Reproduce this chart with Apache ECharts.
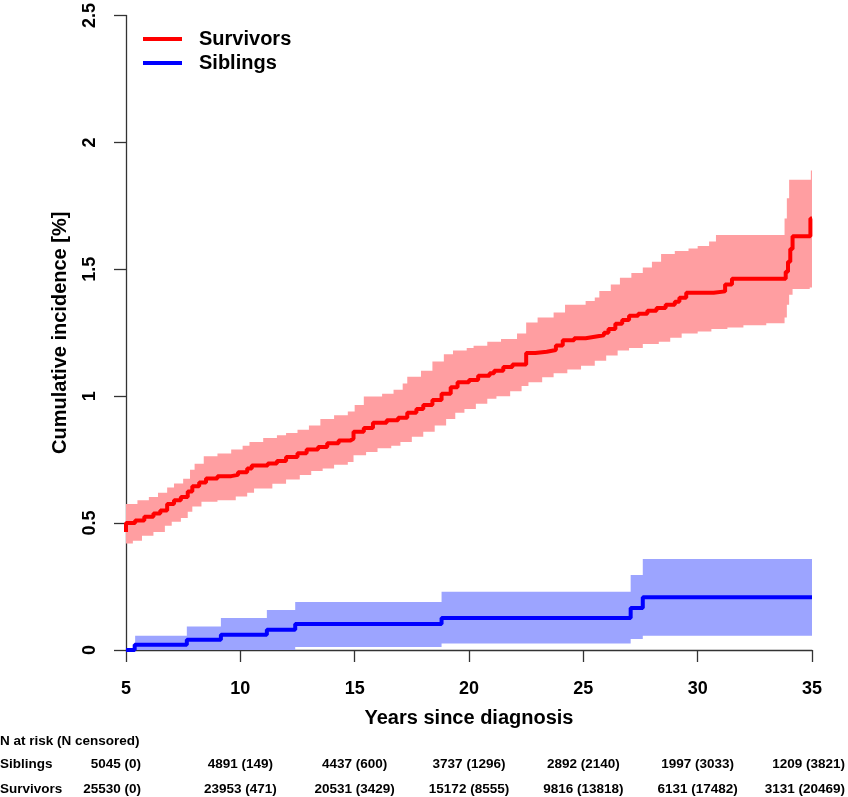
<!DOCTYPE html>
<html><head><meta charset="utf-8">
<script src="https://cdn.jsdelivr.net/npm/echarts@6/dist/echarts.min.js"></script>
<style>html,body{margin:0;padding:0;background:#fff}#c{width:848px;height:797px}</style>
</head><body><div id="c"></div>
<script>
// ---------- data ----------
const xTicks = [5, 10, 15, 20, 25, 30, 35];
const seriesNames = ['Survivors', 'Siblings'];

// step points [years, cumulative incidence %]
const survivorsEst = [
 [5.0,0.465],[5.0,0.50],[5.4,0.51],[5.8,0.525],[6.2,0.538],[6.5,0.55],[6.8,0.575],[7.1,0.59],[7.4,0.603],
 [7.7,0.625],[7.9,0.645],[8.2,0.66],[8.5,0.676],[9.0,0.685],[9.6,0.69],[9.9,0.70],[10.3,0.715],
 [10.5,0.727],[11.2,0.735],[11.6,0.745],[12.0,0.76],[12.5,0.775],[12.9,0.79],[13.4,0.80],[13.8,0.815],
 [14.3,0.825],[14.8,0.832],[14.95,0.86],[15.4,0.875],[15.8,0.895],[16.4,0.905],[16.9,0.915],[17.3,0.935],
 [17.7,0.95],[18.0,0.965],[18.4,0.985],[18.8,1.01],[19.2,1.035],[19.5,1.055],[20.0,1.064],[20.4,1.081],
 [20.9,1.09],[21.1,1.10],[21.5,1.115],[21.9,1.125],[22.5,1.17],[22.9,1.175],[23.4,1.182],[23.8,1.20],
 [24.1,1.22],[24.6,1.228],[25.1,1.234],[25.5,1.24],[25.9,1.25],[26.1,1.265],[26.4,1.285],[26.7,1.30],
 [27.0,1.317],[27.4,1.325],[27.8,1.337],[28.2,1.348],[28.6,1.36],[29.0,1.372],[29.2,1.388],[29.5,1.408],
 [30.7,1.413],[31.2,1.44],[31.5,1.463],[33.85,1.49],[33.95,1.53],[34.05,1.58],[34.15,1.63],[34.93,1.70],[35.0,1.70]
];
const survivorsUpper = [
 [5.0,0.575],[5.5,0.59],[6.0,0.603],[6.4,0.62],[6.8,0.64],[7.1,0.656],[7.5,0.675],[7.8,0.71],
 [8.0,0.734],[8.4,0.763],[9.0,0.774],[9.6,0.79],[10.1,0.805],[10.4,0.82],[11.0,0.835],[11.6,0.846],
 [12.0,0.855],[12.5,0.868],[13.0,0.885],[13.5,0.91],[14.1,0.925],[14.7,0.94],[15.0,0.965],[15.4,0.999],
 [16.2,1.01],[16.7,1.025],[17.1,1.05],[17.3,1.077],[17.9,1.10],[18.4,1.137],[18.9,1.165],[19.3,1.18],
 [19.9,1.19],[20.2,1.199],[20.8,1.215],[21.4,1.225],[22.1,1.247],[22.5,1.29],[23.0,1.31],[23.7,1.33],
 [24.2,1.36],[25.1,1.375],[25.5,1.389],[25.7,1.415],[26.2,1.44],[26.6,1.467],[27.1,1.485],[27.6,1.507],
 [28.0,1.53],[28.4,1.56],[29.0,1.572],[29.6,1.582],[30.0,1.592],[30.5,1.61],[30.8,1.635],[33.8,1.70],
 [33.9,1.78],[34.0,1.853],[34.95,1.889],[35.0,1.889]
];
const survivorsLower = [
 [5.0,0.42],[5.3,0.43],[5.7,0.45],[6.2,0.465],[6.7,0.49],[7.0,0.505],[7.4,0.52],[7.7,0.545],
 [7.9,0.565],[8.3,0.584],[9.0,0.59],[9.8,0.605],[10.3,0.62],[10.6,0.636],[11.4,0.655],[12.0,0.672],
 [12.6,0.69],[13.1,0.705],[13.6,0.715],[14.1,0.73],[14.7,0.741],[14.95,0.767],[15.5,0.78],[16.0,0.795],
 [16.6,0.805],[17.0,0.82],[17.5,0.84],[18.0,0.86],[18.5,0.885],[19.0,0.91],[19.4,0.935],[19.8,0.95],
 [20.3,0.97],[20.8,0.99],[21.2,1.00],[21.8,1.02],[22.3,1.04],[22.6,1.055],[23.2,1.075],[23.7,1.09],
 [24.3,1.105],[24.9,1.12],[25.5,1.14],[26.0,1.16],[26.5,1.18],[27.0,1.19],[27.6,1.206],[28.3,1.215],
 [28.8,1.23],[29.3,1.247],[30.0,1.255],[30.6,1.265],[31.3,1.271],[32.0,1.28],[33.0,1.287],[33.8,1.31],
 [33.9,1.36],[34.0,1.40],[34.15,1.422],[34.9,1.428],[35.0,1.428]
];
const siblingsEst = [
 [5.0,0],[5.38,0.021],[7.66,0.04],[9.15,0.06],[11.16,0.08],[12.4,0.102],[18.8,0.126],[27.07,0.165],[27.6,0.208],[35.0,0.208]
];
const siblingsUpper = [
 [5.0,0],[5.4,0.056],[7.66,0.093],[9.15,0.126],[11.16,0.158],[12.4,0.189],[18.8,0.23],[27.07,0.296],[27.6,0.359],[35.0,0.359]
];
const siblingsLower = [
 [5.0,0],[12.4,0.012],[18.8,0.026],[27.07,0.043],[27.6,0.056],[35.0,0.056]
];

const tableTitle = 'N at risk (N censored)';
const siblingsAtRisk = ['5045 (0)','4891 (149)','4437 (600)','3737 (1296)','2892 (2140)','1997 (3033)','1209 (3821)'];
const survivorsAtRisk = ['25530 (0)','23953 (471)','20531 (3429)','15172 (8555)','9816 (13818)','6131 (17482)','3131 (20469)'];

// ---------- styles ----------
const RED = '#ff0000', RED_BAND = '#ff9ea1';
const BLUE = '#0000ff', BLUE_BAND = '#9ca4ff';
const AXIS = '#333333';
const FONT = 'Liberation Sans, Arial, Helvetica, sans-serif';

function stepPath(arr) {
  const pts = [];
  for (let i = 0; i < arr.length; i++) {
    pts.push([arr[i][0], arr[i][1]]);
    if (i + 1 < arr.length) pts.push([arr[i + 1][0], arr[i][1]]);
  }
  return pts;
}
function bandSeries(upper, lower, color) {
  return {
    type: 'custom', silent: true, z: 1,
    data: [[upper[0][0], upper[0][1]]],
    encode: { x: 0, y: 1 },
    renderItem: function (params, api) {
      const up = stepPath(upper).map(p => api.coord(p));
      const lo = stepPath(lower).map(p => api.coord(p)).reverse();
      return { type: 'polygon', shape: { points: up.concat(lo) }, style: { fill: color, stroke: null } };
    }
  };
}

const chart = echarts.init(document.getElementById('c'), null, { renderer: 'canvas' });
const option = {
  animation: false,
  backgroundColor: '#ffffff',
  textStyle: { fontFamily: FONT },
  grid: { left: 126, right: 36, top: 14, bottom: 147 },
  legend: {
    data: seriesNames, orient: 'vertical', left: 143, top: 29, padding: 0,
    icon: 'rect', itemWidth: 39, itemHeight: 4, itemGap: 4,
    textStyle: { fontSize: 20, fontWeight: 'bold', color: '#000', fontFamily: FONT, padding: [0, 0, 0, 12] }
  },
  xAxis: {
    type: 'value', min: 5, max: 35, interval: 5,
    name: 'Years since diagnosis', nameLocation: 'middle', nameGap: 58,
    nameTextStyle: { fontSize: 20, fontWeight: 'bold', color: '#000', fontFamily: FONT },
    axisLine: { show: true, lineStyle: { color: AXIS, width: 1.3 } },
    axisTick: { show: true, length: 12, lineStyle: { color: AXIS, width: 1.3 } },
    axisLabel: { fontSize: 18, fontWeight: 'bold', color: '#000', margin: 30, fontFamily: FONT },
    splitLine: { show: false }
  },
  yAxis: {
    type: 'value', min: 0, max: 2.5, interval: 0.5,
    name: 'Cumulative incidence [%]', nameLocation: 'middle', nameGap: 56,
    nameTextStyle: { fontSize: 20, fontWeight: 'bold', color: '#000', fontFamily: FONT },
    axisLine: { show: true, lineStyle: { color: AXIS, width: 1.3 } },
    axisTick: { show: true, length: 12, lineStyle: { color: AXIS, width: 1.3 } },
    axisLabel: { fontSize: 18, fontWeight: 'bold', color: '#000', margin: 27, rotate: 90, fontFamily: FONT },
    splitLine: { show: false }
  },
  series: [
    bandSeries(survivorsUpper, survivorsLower, RED_BAND),
    bandSeries(siblingsUpper, siblingsLower, BLUE_BAND),
    { name: 'Survivors', type: 'line', step: 'end', data: survivorsEst, showSymbol: false, z: 3,
      lineStyle: { color: RED, width: 4 }, itemStyle: { color: RED } },
    { name: 'Siblings', type: 'line', step: 'end', data: siblingsEst, showSymbol: false, z: 3,
      lineStyle: { color: BLUE, width: 4 }, itemStyle: { color: BLUE } }
  ]
};
chart.setOption(option);

// ---------- at-risk table ----------
const tStyle = (txt, align) => ({ text: txt, fill: '#000', font: 'bold 13.5px ' + FONT, textAlign: align, textVerticalAlign: 'middle' });
const rowY = { title: 741, Siblings: 764, Survivors: 789 };
const g = [{ type: 'text', x: 0, y: rowY.title, style: tStyle(tableTitle, 'left') }];
const rows = [['Siblings', siblingsAtRisk], ['Survivors', survivorsAtRisk]];
rows.forEach(([label, vals]) => {
  g.push({ type: 'text', x: 0, y: rowY[label], style: tStyle(label, 'left') });
  vals.forEach((v, i) => {
    let x = chart.convertToPixel({ xAxisIndex: 0 }, xTicks[i]);
    let align = 'center';
    if (i === 0) { x = 141; align = 'right'; }
    if (i === vals.length - 1) { x = 845; align = 'right'; }
    g.push({ type: 'text', x: x, y: rowY[label], style: tStyle(v, align) });
  });
});
chart.setOption({ graphic: g });
</script>
</body></html>
